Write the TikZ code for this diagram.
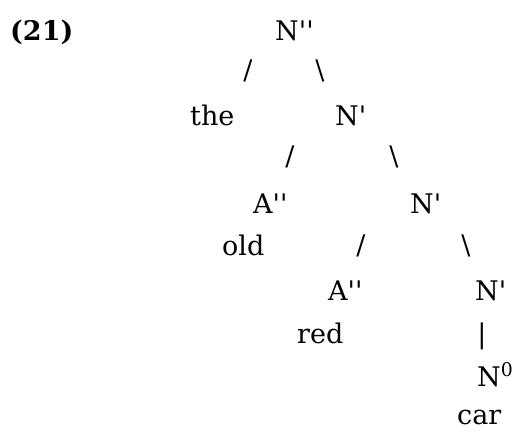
\documentclass[tikz,border=0pt]{standalone}
\usepackage{fontspec}
\setmainfont{DejaVu Serif}
\usepackage{tikz}

\newcommand{\bq}{\textquotesingle}

\tikzset{
  word/.style={anchor=base west, inner sep=0pt, font=\fontsize{27}{33}\selectfont},
  branch/.style={anchor=base, inner sep=0pt, font=\fontsize{27}{33}\selectfont}
}

\begin{document}
\begin{tikzpicture}[x=1pt,y=-1pt]
  \useasboundingbox[fill=white] (0,0) rectangle (513,432);

  \node[word,font=\fontsize{27}{33}\selectfont\bfseries] (exnum) at (10,40) {(21)};
  \node[word] (npp) at (275,40) {N\bq\bq};

  \node[branch] (b1l) at (248,79) {/};
  \node[branch] (b1r) at (320,79) {\textbackslash};
  \node[word] (the) at (190,125) {the};
  \node[word] (nb1) at (335,125) {N\bq};

  \node[branch] (b2l) at (290,165) {/};
  \node[branch] (b2r) at (394,165) {\textbackslash};
  \node[word] (ap1) at (253,213) {A\bq\bq};
  \node[word] (nb2) at (410,213) {N\bq};

  \node[word] (old) at (222,255) {old};
  \node[branch] (b3l) at (361,254) {/};
  \node[branch] (b3r) at (466,254) {\textbackslash};
  \node[word] (ap2) at (328,300) {A\bq\bq};
  \node[word] (nb3) at (475,300) {N\bq};

  \node[word] (red) at (297,343) {red};
  \node[branch] (b4) at (482,343) {|};
  \node[word] (n0) at (477,386) {N\textsuperscript{0}};
  \node[word,text depth=0pt] (car) at (457,424) {car};
\end{tikzpicture}
\end{document}
